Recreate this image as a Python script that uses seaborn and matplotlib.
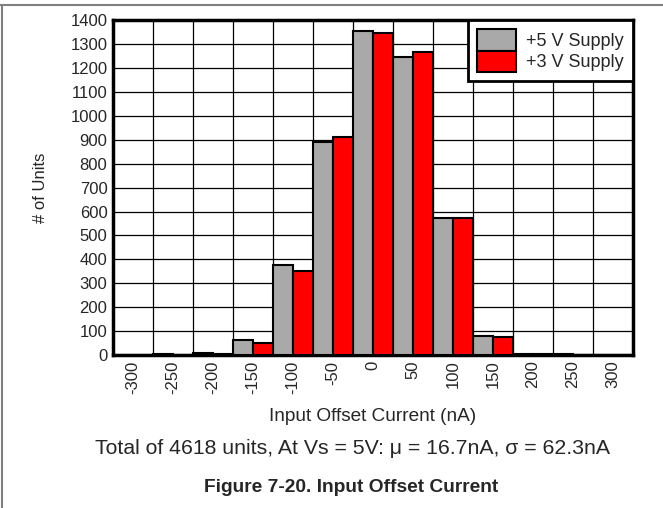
import numpy as np
import pandas as pd
import matplotlib
matplotlib.use("Agg")
import matplotlib.pyplot as plt
import seaborn as sns
from matplotlib.lines import Line2D

# Histogram data (count of units per bin)
bins = ["-300", "-250", "-200", "-150", "-100", "-50", "0",
        "50", "100", "150", "200", "250", "300"]
supply_5v = [1, 3, 9, 62, 375, 893, 1355, 1248, 575, 80, 6, 3, 0]
supply_3v = [1, 0, 5, 50, 350, 913, 1348, 1268, 575, 75, 3, 1, 0]
series = ["+5 V Supply", "+3 V Supply"]
colors = ["#A9A9A9", "#FF0000"]

df = pd.DataFrame({
    "bin": bins * 2,
    "units": supply_5v + supply_3v,
    "supply": [series[0]] * len(bins) + [series[1]] * len(bins),
})

sns.set_style("white")
plt.rcParams['font.family'] = ['Liberation Sans', 'DejaVu Sans']

fig = plt.figure(figsize=(6.63, 5.08), dpi=100)
ax = fig.add_axes([0.1704, 0.3012, 0.7844, 0.6588])

sns.barplot(data=df, x="bin", y="units", hue="supply", order=bins,
            hue_order=series, palette=colors, width=1.0, gap=0,
            edgecolor="black", linewidth=1.5, saturation=1, ax=ax, zorder=3)

ax.set_xlim(-0.5, len(bins) - 0.5)
ax.set_ylim(0, 1400)
ax.set_yticks(np.arange(0, 1401, 100))
ax.set_xticks(np.arange(len(bins)))
ax.set_xticklabels(bins, rotation=90)
ax.set_xticks(np.arange(0.5, len(bins) - 1, 1), minor=True)
ax.tick_params(axis="both", which="both", length=0, labelsize=12, pad=4)

ax.set_axisbelow(True)
ax.grid(axis="y", which="major", color="black", linewidth=0.9)
ax.grid(axis="x", which="minor", color="black", linewidth=0.9)
ax.grid(axis="x", which="major", visible=False)

for sp in ax.spines.values():
    sp.set_visible(True)
    sp.set_color("black")
    sp.set_linewidth(2.5)

ax.set_xlabel("Input Offset Current (nA)", fontsize=13.7, labelpad=10)
ax.set_ylabel("# of Units", fontsize=12, labelpad=16)

leg = ax.legend(loc="upper right", bbox_to_anchor=(1, 1), borderaxespad=0,
                fontsize=13, frameon=True, fancybox=False, labelspacing=0,
                handlelength=2.2, handleheight=1.45, handletextpad=0.55,
                borderpad=0.5)
leg.get_frame().set_edgecolor("black")
leg.get_frame().set_linewidth(2)
leg.get_frame().set_alpha(1)

fig.text(0.532, 0.118, "Total of 4618 units, At Vs = 5V: \u03bc = 16.7nA, \u03c3 = 62.3nA",
         ha="center", va="center", fontsize=15.3)
fig.text(0.53, 0.04, "Figure 7-20. Input Offset Current",
         ha="center", va="center", fontsize=13.8, fontweight="bold")

# page frame lines
fig.add_artist(Line2D([0, 1], [1 - 5 / 508, 1 - 5 / 508], color="#808080", linewidth=1.5))
fig.add_artist(Line2D([1.5 / 663, 1.5 / 663], [0, 1 - 5 / 508], color="#808080", linewidth=1.5))

fig.savefig("out.png", dpi=100)
